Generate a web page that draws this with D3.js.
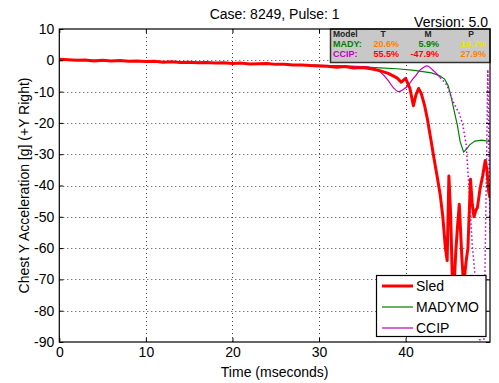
<!DOCTYPE html>
<html><head><meta charset="utf-8">
<script src="https://cdn.jsdelivr.net/npm/d3@7"></script>
<style>
body{margin:0;background:#fff;}
text{font-family:Arial,"Liberation Sans",sans-serif;}
</style></head>
<body>
<svg id="c" width="499" height="383"></svg>
<script>
// ---- data ----
const xTicks = [0,10,20,30,40];
const yTicks = [10,0,-10,-20,-30,-40,-50,-60,-70,-80,-90];
const seriesNames = ["Sled","MADYMO","CCIP"];

const sledT = [0,1,2,3,4,5,6,7,8,9,10,11,12,13,14,15,16,17,18,19,20,21,22,23,24,25,26,27,28,29,30,31,32,33,34,35,36,37,38,39,39.5,40,40.5,40.9,41.2,41.5,41.8,42.2,42.5,42.9,43.2,43.7,44.0,44.3,44.6,44.8,45.0,45.2,45.4,45.6,45.8,46.0,46.2,46.5,46.7,47.0,47.2,47.5,47.7,47.9,48.1,48.3,48.6,48.9,49.2,49.4,49.6,49.75];
const sledG = [0.3,0.2,0.0,0.1,-0.2,0.0,-0.2,-0.1,-0.3,-0.2,-0.4,-0.3,-0.6,-0.5,-0.7,-0.6,-0.8,-0.7,-0.9,-0.8,-1.0,-0.9,-1.2,-1.1,-1.0,-1.3,-1.3,-1.5,-1.5,-1.7,-1.8,-1.9,-2.2,-2.0,-2.5,-2.3,-2.7,-3.3,-4.2,-5.6,-7.0,-5.8,-9.0,-14.5,-11.0,-9.0,-10.5,-14.5,-18.5,-25,-30,-38,-43,-50,-60,-64,-37,-49,-70,-72,-61,-53,-46,-63,-72,-64,-60,-38,-46,-50,-48,-47,-41,-37,-32,-35,-42,-44];

const madyT = [0,5,10,15,20,25,30,33,35,37,39,41,43,44,44.5,44.9,45.2,45.6,46.0,46.3,46.7,47.0,47.4,48.0,48.8,49.75];
const madyG = [0.2,0.0,-0.4,-0.6,-0.9,-1.2,-1.6,-1.9,-2.1,-2.4,-2.7,-3.2,-4.0,-5.0,-6.0,-8.0,-11.0,-16.0,-21.0,-26.0,-29.3,-28.5,-27.0,-25.8,-25.5,-26.0];

const ccipT = [0,5,10,15,20,25,30,33,35,36,37,38,38.6,39.2,39.8,40.2,40.7,41.2,41.7,42.1,42.5,43.1,43.7,44.0];
const ccipG = [0.1,-0.1,-0.4,-0.7,-1.0,-1.2,-1.6,-1.8,-2.0,-2.3,-3.6,-6.5,-8.8,-10.0,-9.2,-8.3,-6.5,-4.8,-3.0,-2.2,-1.8,-3.0,-4.6,-5.5];
const ccipLateT = [44.0,44.5,44.8,45.3,45.8,46.2,46.6,47.0,47.3,47.7,48.1,48.4,48.7,49.0,49.5,49.75];
const ccipLateG = [-5.5,-7,-8,-12,-15,-17,-20.5,-27,-40,-59,-71,-82,-94,-100,-3,-55];

const tableCols = ["Model","T","M","P"];
const tableRows = ["MADY:","CCIP:"];
const tableVals = [["20.6%","5.9%","19.7%"],["55.5%","-47.9%","27.9%"]];
const tableColors = [["#ff8000","#008000","#e6e600"],["#ff0000","#ff0000","#ff8000"]];

// ---- chart ----
const svg = d3.select("#c");
const L=59.3, R=490, T=29, B=342;
const x = d3.scaleLinear().domain([0,49.75]).range([L,R]);
const y = d3.scaleLinear().domain([-90,10]).range([B,T]);
const colors = {Sled:"#ff0000", MADYMO:"#008000", CCIP:"#c000c0"};

svg.append("defs").append("clipPath").attr("id","clip")
  .append("rect").attr("x",L).attr("y",T).attr("width",R-L).attr("height",B-T);

// grid
const grid = svg.append("g").attr("stroke","#444").attr("stroke-width",1).attr("stroke-dasharray","1,3");
grid.selectAll("line.v").data(xTicks.filter(d=>d>0)).join("line")
  .attr("x1",d=>Math.round(x(d))+0.5).attr("x2",d=>Math.round(x(d))+0.5).attr("y1",T).attr("y2",B);
grid.selectAll("line.h").data(yTicks.filter(d=>d<10&&d>-90)).join("line")
  .attr("y1",d=>Math.round(y(d))+0.5).attr("y2",d=>Math.round(y(d))+0.5).attr("x1",L).attr("x2",R);

const line = d3.line().x(d=>x(d[0])).y(d=>y(d[1]));
const plot = svg.append("g").attr("clip-path","url(#clip)").attr("fill","none");

plot.append("path").datum(madyT.map((t,i)=>[t,madyG[i]]))
  .attr("d",line).attr("stroke",colors.MADYMO).attr("stroke-width",1.2);
plot.append("path").datum(ccipT.map((t,i)=>[t,ccipG[i]]))
  .attr("d",d3.line().curve(d3.curveMonotoneX).x(d=>x(d[0])).y(d=>y(d[1])))
  .attr("stroke",colors.CCIP).attr("stroke-width",1.2);
plot.append("path").datum(ccipLateT.map((t,i)=>[t,ccipLateG[i]]))
  .attr("d",line).attr("stroke",colors.CCIP).attr("stroke-width",1.5).attr("stroke-dasharray","1.5,2.5");
plot.append("path").datum(sledT.map((t,i)=>[t,sledG[i]]))
  .attr("d",line).attr("stroke",colors.Sled).attr("stroke-width",3).attr("stroke-linejoin","round");

// axes box and ticks
const fmt = d => String(d);
const ax = svg.append("g");
ax.append("g").attr("transform",`translate(0,${B})`)
  .call(d3.axisBottom(x).tickValues(xTicks).tickFormat(fmt).tickSizeInner(-4).tickSizeOuter(0).tickPadding(5));
ax.append("g").attr("transform",`translate(${L},0)`)
  .call(d3.axisLeft(y).tickValues(yTicks).tickFormat(fmt).tickSizeInner(-4).tickSizeOuter(0).tickPadding(5));
ax.append("g").attr("transform",`translate(0,${T})`)
  .call(d3.axisTop(x).tickValues(xTicks).tickSizeInner(-4).tickSizeOuter(0).tickFormat(""));
ax.append("g").attr("transform",`translate(${R},0)`)
  .call(d3.axisRight(y).tickValues(yTicks).tickSizeInner(-4).tickSizeOuter(0).tickFormat(""));
ax.selectAll(".domain").remove();
ax.selectAll("text").attr("font-size",14).attr("font-family","Arial, 'Liberation Sans', sans-serif").attr("fill","#000");
ax.selectAll("line").attr("stroke","#000");

// table box
const tb = svg.append("g");
tb.append("rect").attr("x",330.5).attr("y",T).attr("width",R-330.5).attr("height",33.5)
  .attr("fill","#c8c8c8").attr("stroke","#333").attr("stroke-width",1.5);
const colRight = [null,399,439,486];
const mono = "'Liberation Mono','DejaVu Sans Mono',monospace";
tb.append("text").attr("x",333).attr("y",37).text(tableCols[0])
  .attr("font-family",mono).attr("font-size",8.5).attr("font-weight","bold").attr("fill","#222");
[383,428,471].forEach((cx,i)=>{
  tb.append("text").attr("x",cx).attr("y",37).attr("text-anchor","middle").text(tableCols[i+1])
    .attr("font-family",mono).attr("font-size",8.5).attr("font-weight","bold").attr("fill","#222");
});
const rowColor=["#008000","#c000c0"];
tableRows.forEach((r,ri)=>{
  const yy = 47 + ri*10;
  tb.append("text").attr("x",333).attr("y",yy).text(r).attr("font-family",mono)
    .attr("font-size",9).attr("font-weight","bold").attr("fill",rowColor[ri]);
  tableVals[ri].forEach((v,ci)=>{
    tb.append("text").attr("x",colRight[ci+1]).attr("y",yy).attr("text-anchor","end").text(v)
      .attr("font-family",mono).attr("font-size",9).attr("font-weight","bold").attr("fill",tableColors[ri][ci]);
  });
});

// outer axes box
svg.append("rect").attr("x",L).attr("y",T).attr("width",R-L).attr("height",B-T)
  .attr("fill","none").attr("stroke","#000").attr("stroke-width",1.2);

// legend
const lg = svg.append("g");
lg.append("rect").attr("x",376.5).attr("y",275.5).attr("width",109.5).attr("height",61)
  .attr("fill","#fff").attr("stroke","#000").attr("stroke-width",1.2);
const lw = {Sled:3,MADYMO:1.2,CCIP:1.2};
seriesNames.forEach((n,i)=>{
  const yy = 286 + i*21;
  lg.append("line").attr("x1",382).attr("x2",413).attr("y1",yy).attr("y2",yy)
    .attr("stroke",colors[n]).attr("stroke-width",lw[n]);
  lg.append("text").attr("x",416).attr("y",yy+5).text(n).attr("font-size",14).attr("fill","#000");
});

// titles
svg.append("text").attr("x",(L+R)/2).attr("y",19).attr("text-anchor","middle")
  .attr("font-size",14).text("Case: 8249, Pulse: 1");
svg.append("text").attr("x",488).attr("y",26.5).attr("text-anchor","end")
  .attr("font-size",14).text("Version: 5.0");
svg.append("text").attr("x",(L+R)/2).attr("y",377).attr("text-anchor","middle")
  .attr("font-size",14).text("Time (mseconds)");
svg.append("text").attr("transform",`translate(29,${(T+B)/2}) rotate(-90)`).attr("text-anchor","middle")
  .attr("font-size",14).text("Chest Y Acceleration [g] (+Y Right)");
</script>
</body></html>
